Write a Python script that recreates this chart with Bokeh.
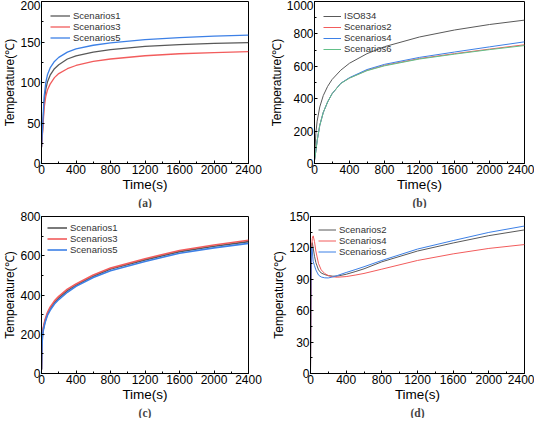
from bokeh.plotting import figure
from bokeh.models import Range1d, SingleIntervalTicker, Legend, LegendItem, Title
from bokeh.layouts import row, column
from bokeh.embed import file_html
from bokeh.resources import INLINE

# ---------------- data ----------------
# (a)
t_a = [0, 15, 30, 50, 70, 100, 150, 200, 300, 400, 600, 800, 1200, 1600, 2000, 2400]
a_s1 = [20, 45, 75, 92, 101, 109, 117, 122, 129, 133, 137.5, 140.5, 144.5, 146.8, 148.3, 149.2]
a_s3 = [20, 42, 68, 83, 91, 98, 106, 111, 117, 121, 126, 129, 133, 135.5, 137, 138.2]
a_s5 = [20, 50, 82, 100, 110, 118, 126, 131, 137.5, 141.5, 146, 149, 153, 155.5, 157.2, 158.6]

# (b)
t_b = [0, 15, 30, 60, 100, 150, 200, 300, 400, 600, 800, 1200, 1600, 2000, 2400]
b_iso = [20, 185, 261, 349, 419, 476, 518, 576, 619, 678, 721, 781, 824, 858, 885]
b_s2 = [20, 75, 140, 235, 315, 380, 430, 495, 528, 575, 606, 648, 678, 706, 733]
b_s4 = [20, 75, 140, 235, 315, 380, 430, 495, 530, 580, 612, 655, 688, 720, 751]
b_s6 = [20, 75, 140, 235, 315, 380, 430, 494, 527, 573, 603, 645, 675, 703, 728]

# (c)
t_c = [0, 5, 10, 20, 40, 70, 100, 150, 200, 300, 400, 600, 800, 1200, 1600, 2000, 2400]
c_s1 = [20, 130, 190, 225, 265, 305, 330, 362, 385, 422, 450, 496, 532, 579, 621, 648, 672]
c_s3 = [20, 135, 195, 232, 272, 312, 338, 370, 393, 430, 456, 502, 537, 585, 627, 655, 679]
c_s5 = [20, 125, 185, 218, 258, 298, 322, 354, 377, 414, 444, 489, 524, 571, 613, 640, 663]

# (d)
t_d = [0, 5, 10, 15, 20, 30, 45, 60, 90, 120, 160, 200, 250, 300, 400, 500, 600, 800, 1200, 1600, 2000, 2400]
d_s2 = [2, 60, 110, 124, 125, 120, 112, 106, 99, 96, 94.5, 93.5, 93, 93, 94.8, 97.3, 100, 106.7, 117, 124.7, 131.7, 137.2]
d_s4 = [2, 50, 100, 123, 129, 131.5, 126, 117, 105, 99, 95.5, 93.5, 92.4, 92.0, 92.6, 94.0, 95.6, 99.7, 108, 114.3, 119.5, 123.2]
d_s6 = [2, 80, 118, 121, 117, 107, 103, 99, 94, 92.2, 91.4, 91.3, 92.3, 93.6, 96.5, 99.2, 102, 108, 118.9, 127, 134.8, 140.9]

x_max = 2400
x_tick_step = 400
y_max = {"a": 200, "b": 1000, "c": 800, "d": 150}
y_tick_step = {"a": 50, "b": 200, "c": 200, "d": 30}
x_label = "Time(s)"
y_label = "Temperature(℃)"

GRAY = "#595959"
RED = "#f25c5c"
BLUE = "#3d80e6"
GREEN = "#62c088"
FONT = "Liberation Sans"


def panel(w, h, bl, br, bt, bb, key, xs, series, caption, lw, leg_margin, leg_pad, row_h, glyph_w):
    p = figure(width=w, height=h, output_backend="svg", toolbar_location=None,
               x_range=Range1d(0, x_max), y_range=Range1d(0, y_max[key]),
               min_border_left=bl, min_border_right=br, min_border_top=bt, min_border_bottom=bb,
               x_axis_label=x_label, y_axis_label=y_label)
    p.grid.visible = False
    p.outline_line_color = "black"
    p.outline_line_alpha = 1
    p.outline_line_width = 1
    p.xaxis.ticker = SingleIntervalTicker(interval=x_tick_step, num_minor_ticks=2)
    p.yaxis.ticker = SingleIntervalTicker(interval=y_tick_step[key], num_minor_ticks=2)
    for ax in (p.xaxis[0], p.yaxis[0]):
        ax.major_tick_in = 3
        ax.major_tick_out = 0
        ax.minor_tick_in = 2
        ax.minor_tick_out = 0
        ax.axis_line_color = "black"
        ax.major_tick_line_color = "black"
        ax.minor_tick_line_color = "black"
        ax.major_label_text_font = FONT
        ax.major_label_text_font_size = "12px"
        ax.major_label_text_color = "black"
        ax.axis_label_text_font = FONT
        ax.axis_label_text_font_style = "normal"
        ax.axis_label_text_color = "black"
        ax.major_label_standoff = 1
        ax.axis_label_standoff = 0
    p.xaxis.axis_label_text_font_size = "13.5px"
    p.yaxis.axis_label_text_font_size = "12px"
    items = []
    for name, ys, color in series:
        r = p.line(xs, ys, line_color=color, line_width=lw)
        items.append(LegendItem(label=name, renderers=[r]))
    legend = Legend(items=items, location="top_left", margin=leg_margin, padding=leg_pad,
                    spacing=0, label_height=row_h, glyph_height=row_h, glyph_width=glyph_w,
                    label_standoff=3, label_text_font=FONT, label_text_font_size="9.5px",
                    label_text_color="#333333", background_fill_alpha=0, border_line_alpha=0)
    p.add_layout(legend)
    p.add_layout(Title(text=caption, align="center", offset=-5, text_font="Liberation Serif",
                       text_font_size="11.5px", text_font_style="bold", standoff=0), "below")
    return p


pa = panel(262, 208, 34, 14, 1, 43, "a", t_a,
           [("Scenarios1", a_s1, GRAY), ("Scenarios3", a_s3, RED), ("Scenarios5", a_s5, BLUE)],
           "(a)", 1.3, 5, 4, 11, 20)
pb = panel(272, 208, 52, 10, 1, 43, "b", t_b,
           [("ISO834", b_iso, GRAY), ("Scenarios2", b_s2, RED), ("Scenarios4", b_s4, BLUE),
            ("Scenarios6", b_s6, GREEN)],
           "(b)", 1.0, 5, 4, 10, 18)
pc = panel(262, 210, 34, 14, 8, 43, "c", t_c,
           [("Scenarios1", c_s1, GRAY), ("Scenarios3", c_s3, RED), ("Scenarios5", c_s5, BLUE)],
           "(c)", 1.6, 2, 4, 11, 20)
pd = panel(272, 210, 48, 10, 8, 43, "d", t_d,
           [("Scenarios2", d_s2, GRAY), ("Scenarios4", d_s4, RED), ("Scenarios6", d_s6, BLUE)],
           "(d)", 1.0, 4, 4, 11, 18)

layout = column(row(pa, pb), row(pc, pd))
open("out.html", "w").write(file_html(layout, INLINE))
